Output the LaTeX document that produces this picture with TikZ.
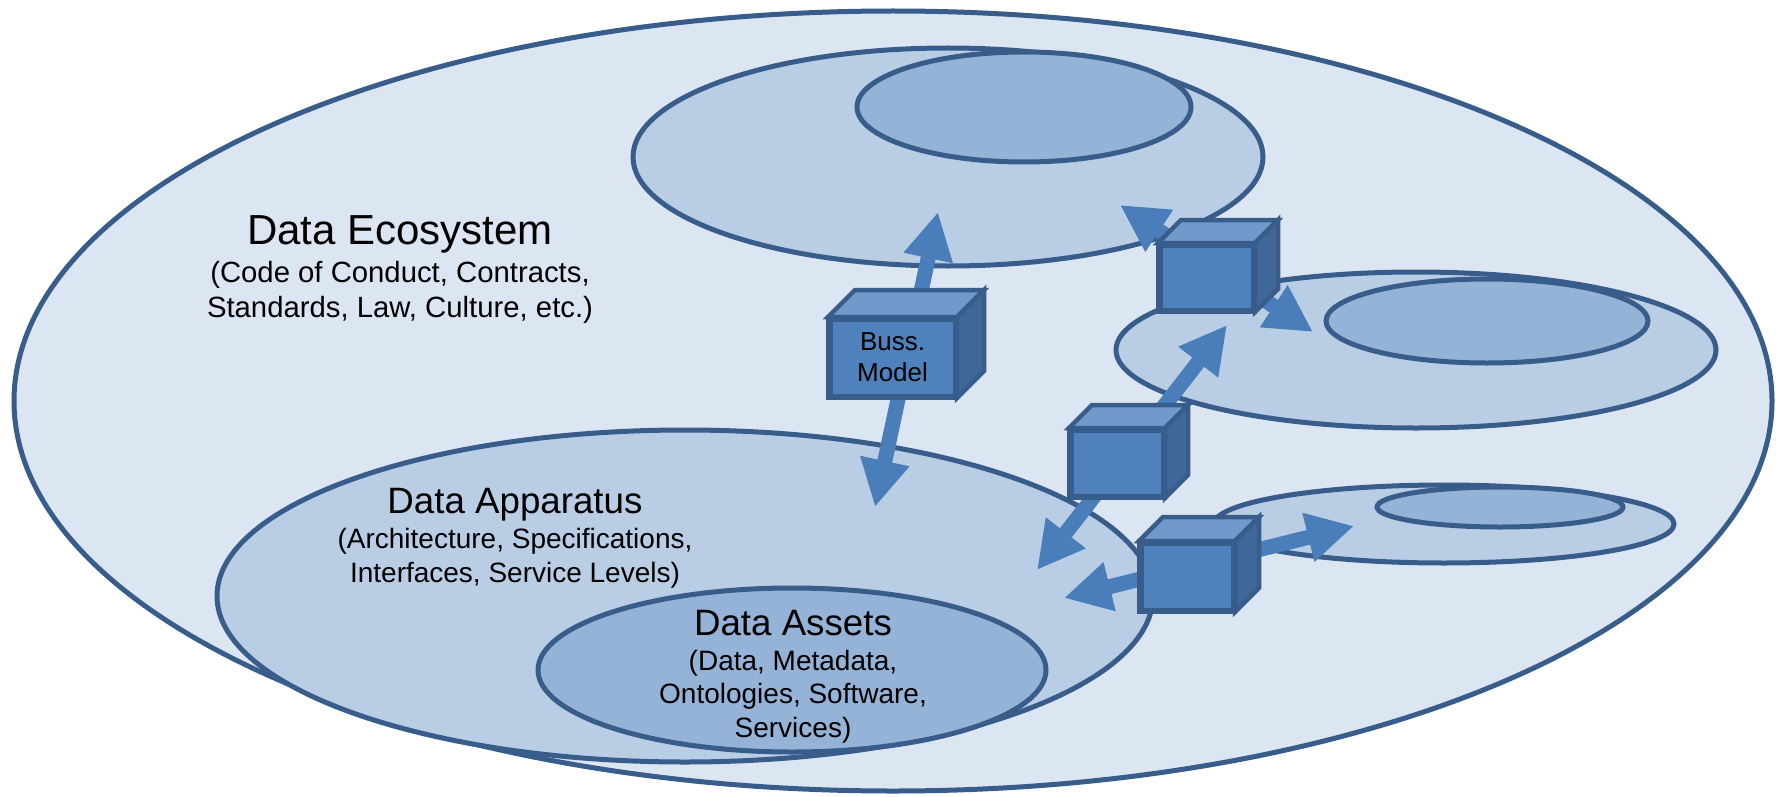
\documentclass[tikz,border=0pt]{standalone}
\usepackage{fontspec}
\setmainfont{Liberation Sans}
\usetikzlibrary{arrows.meta,calc}
\definecolor{edgeblue}{HTML}{385D8A}
\definecolor{fillA}{HTML}{DCE6F2}
\definecolor{fillB}{HTML}{B9CDE5}
\definecolor{fillC}{HTML}{95B3D7}
\definecolor{cubefront}{HTML}{4F81BD}
\definecolor{cubetop}{HTML}{7199CB}
\definecolor{cubeside}{HTML}{3F6899}
\definecolor{arrowblue}{HTML}{4A7EBB}
\newcommand\drawcube[6]{%
  \node[cubebox,minimum width=#3pt,minimum height=#4pt] (#1) at (#2) {#6};
  \filldraw[cubeface,fill=cubetop] (#1.north west) -- ++(#5,-#5) -- ($(#1.north east)+(#5,-#5)$) -- (#1.north east) -- cycle;
  \filldraw[cubeface,fill=cubeside] (#1.north east) -- ++(#5,-#5) -- ($(#1.south east)+(#5,-#5)$) -- (#1.south east) -- cycle;
  \draw[cubeface] (#1.north west) rectangle (#1.south east);
}
\begin{document}
\begin{tikzpicture}[x=1pt,y=-1pt,
  zone/.style={draw=edgeblue,line width=5pt},
  outerzone/.style={zone,fill=fillA},
  midzone/.style={zone,fill=fillB},
  innerzone/.style={zone,fill=fillC},
  link/.style={draw=arrowblue,line width=15pt,{Triangle[length=47pt,width=47pt]}-{Triangle[length=47pt,width=47pt]}},
  cubebox/.style={draw=edgeblue,fill=cubefront,line width=4.5pt,inner sep=0pt,align=center,font=\fontsize{26}{31}\selectfont},
  cubeface/.style={draw=edgeblue,line width=4.5pt,line join=miter},
  bigtitle/.style={font=\fontsize{42}{50}\selectfont,anchor=base,inner sep=0pt},
  midtitle/.style={font=\fontsize{36.7}{44}\selectfont,anchor=base,inner sep=0pt},
  bigsub/.style={font=\fontsize{29.3}{35}\selectfont,anchor=base,inner sep=0pt},
  midsub/.style={font=\fontsize{28}{33.6}\selectfont,anchor=base,inner sep=0pt},
]
\fill[white] (0,0) rectangle (1779,797);
\useasboundingbox (0,0) rectangle (1779,797);

% zones
\draw[outerzone] (893,401) ellipse [x radius=879pt, y radius=390pt];
\draw[midzone] (948,157) ellipse [x radius=315pt, y radius=109pt];
\draw[innerzone] (1024,107) ellipse [x radius=167pt, y radius=55pt];
\draw[midzone] (1416,350) ellipse [x radius=300pt, y radius=78pt];
\draw[innerzone] (1487,321) ellipse [x radius=161pt, y radius=42pt];
\draw[midzone] (1444,524) ellipse [x radius=230pt, y radius=39pt];
\draw[innerzone] (1500,507) ellipse [x radius=123pt, y radius=20pt];
\draw[midzone] (685,596) ellipse [x radius=468pt, y radius=166pt];
\draw[innerzone] (792,670) ellipse [x radius=254pt, y radius=82pt];

% texts
\node[bigtitle] (ecoT) at (400,244) {Data Ecosystem};
\node[bigsub] (ecoA) at (400,282) {(Code of Conduct, Contracts,};
\node[bigsub] (ecoB) at (400,317) {Standards, Law, Culture, etc.)};
\node[midtitle] (appT) at (515,513) {Data Apparatus};
\node[midsub] (appA) at (515,548) {(Architecture, Specifications,};
\node[midsub] (appB) at (515,582) {Interfaces, Service Levels)};
\node[midtitle] (astT) at (793,635) {Data Assets};
\node[midsub] (astA) at (793,670) {(Data, Metadata,};
\node[midsub] (astB) at (793,703) {Ontologies, Software,};
\node[midsub] (astC) at (793,737) {Services)};

% arrow ends
\coordinate (bmUp) at (938,212);
\coordinate (bmDown) at (875,507);
\coordinate (c2Up) at (1120,205);
\coordinate (c2Right) at (1313,332);
\coordinate (c3Up) at (1227,325);
\coordinate (c3Down) at (1037,570);
\coordinate (c4Right) at (1354,526);
\coordinate (c4Left) at (1064,598);

% arrows (behind cubes)
\draw[link] (bmDown) -- (bmUp);
\draw[link] (c2Up) -- (c2Right);
\draw[link] (c3Down) -- (c3Up);
\draw[link] (c4Left) -- (c4Right);

% cubes
\drawcube{buss}{892.5,357.5}{124.5}{76.5}{27}{Buss.\\Model}
\drawcube{cubeB}{1206.5,277.5}{92.5}{64.5}{23}{}
\drawcube{cubeC}{1117,463}{91.5}{65.5}{23}{}
\drawcube{cubeD}{1187,576.5}{91.5}{66.5}{24}{}
\end{tikzpicture}
\end{document}
